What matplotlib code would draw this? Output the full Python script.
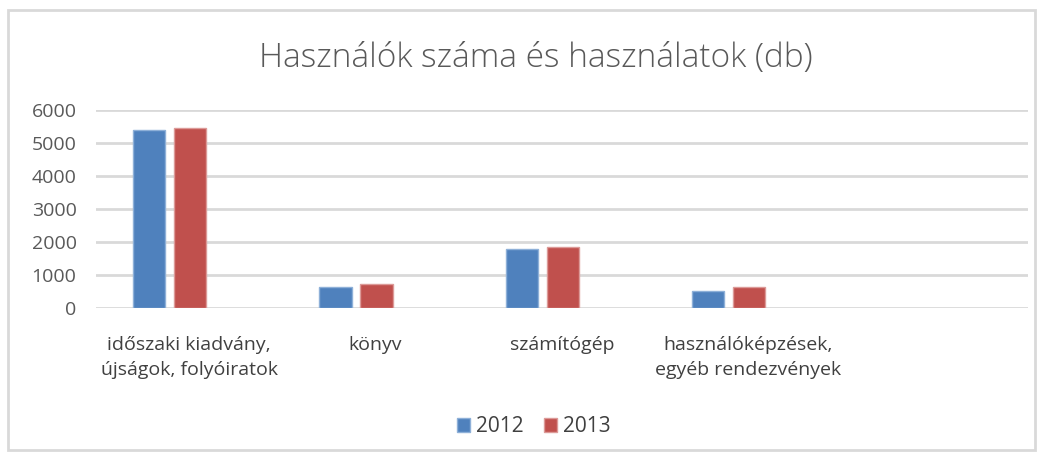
import numpy as np
import matplotlib
matplotlib.use('Agg')
import matplotlib.pyplot as plt
from matplotlib.patches import Rectangle

categories = ['időszaki kiadvány,\nújságok, folyóiratok', 'könyv', 'számítógép',
              'használóképzések,\negyéb rendezvények', '']
y2012 = [5400, 630, 1800, 510, 0]
y2013 = [5440, 720, 1840, 630, 0]
yticks = [0, 1000, 2000, 3000, 4000, 5000, 6000]

plt.rcParams['font.family'] = ['Open Sans', 'DejaVu Sans']

fig = plt.figure(figsize=(10.42, 4.54), dpi=100)
ax = fig.add_axes([0.0921, 0.3216, 0.8945, 0.4361])

x = np.arange(len(categories))
w = 0.172
shift = -0.105
ax.bar(x[:4] + shift - 0.11, y2012[:4], w, color='#4f81bd', edgecolor='#8eb0d8', linewidth=1, label='2012', zorder=3)
ax.bar(x[:4] + shift + 0.11, y2013[:4], w, color='#c0504d', edgecolor='#dc9a98', linewidth=1, label='2013', zorder=3)

ax.set_xlim(-0.5, 4.5)
ax.set_ylim(0, 6000)
ax.set_yticks(yticks)
ax.set_xticks(x)
ax.set_xticklabels(categories, fontsize=14, color='#404040', linespacing=1.55)
ax.tick_params(axis='y', labelsize=14, colors='#595959', length=0, pad=14)
ax.tick_params(axis='x', length=0, pad=20)
ax.grid(axis='y', color='#d9d9d9', linewidth=2, zorder=0)
for s in ax.spines.values():
    s.set_visible(False)

fig.text(0.514, 0.872, 'Használók száma és használatok (db)', ha='center', va='center',
         fontsize=24, color='#595959', fontweight='light')

ax.legend(loc='center', bbox_to_anchor=(0.47, -0.6), ncol=2, frameon=False, fontsize=15,
          handlelength=0.6, handleheight=0.6, handletextpad=0.3, columnspacing=1.0,
          labelcolor='#404040')

fig.patches.append(Rectangle((8 / 1042, 4 / 454), 1027 / 1042, 440 / 454, transform=fig.transFigure,
                             fill=False, edgecolor='#d9d9d9', linewidth=2))

plt.savefig('out.png', dpi=100)
